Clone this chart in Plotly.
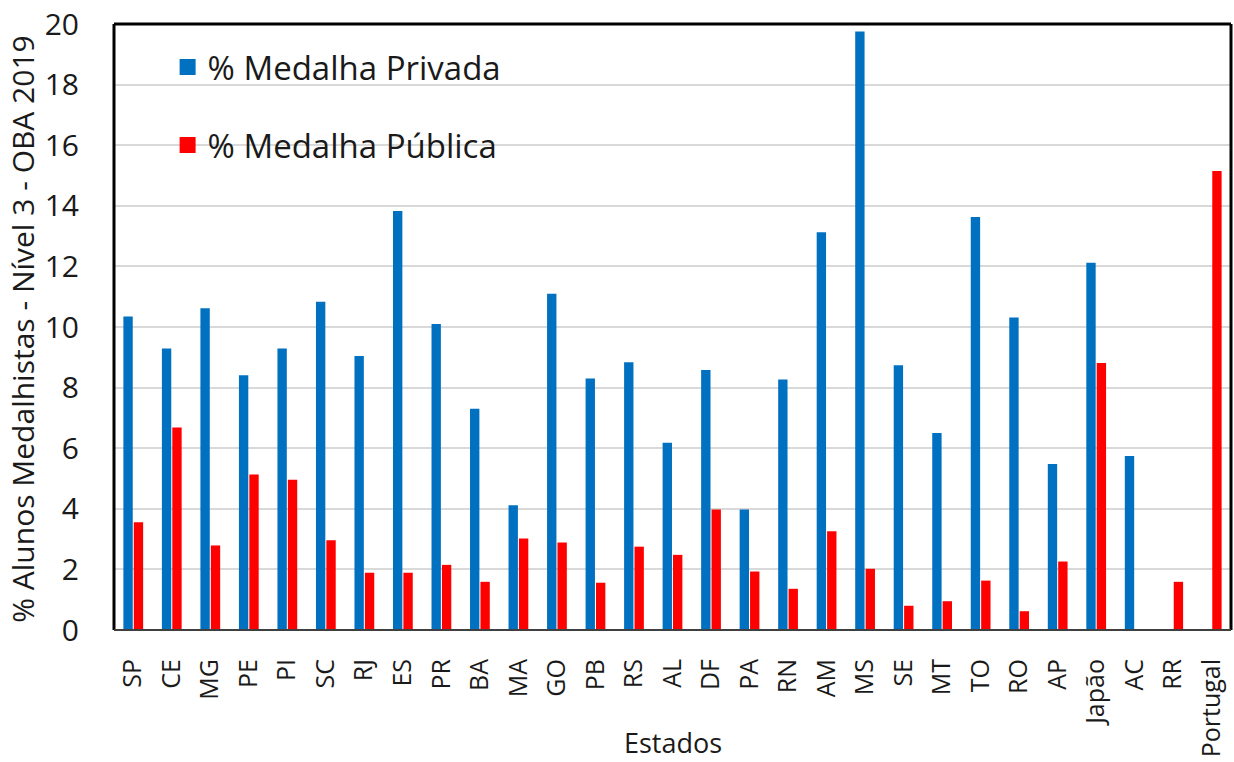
import plotly.graph_objects as go

# Estados / países avaliados
estados = ["SP", "CE", "MG", "PE", "PI", "SC", "RJ", "ES", "PR", "BA", "MA", "GO",
           "PB", "RS", "AL", "DF", "PA", "RN", "AM", "MS", "SE", "MT", "TO", "RO",
           "AP", "Japão", "AC", "RR", "Portugal"]

# % de alunos medalhistas em escolas privadas (None = sem dado)
medalha_privada = [10.35, 9.29, 10.62, 8.41, 9.29, 10.83, 9.04, 13.83, 10.10, 7.30,
                   4.12, 11.10, 8.30, 8.84, 6.18, 8.58, 3.98, 8.27, 13.13, 19.75,
                   8.74, 6.50, 13.63, 10.31, 5.48, 12.12, 5.74, None, None]

# % de alunos medalhistas em escolas públicas
medalha_publica = [3.56, 6.68, 2.79, 5.13, 4.96, 2.96, 1.89, 1.89, 2.15, 1.59,
                   3.02, 2.89, 1.56, 2.75, 2.48, 3.98, 1.93, 1.36, 3.26, 2.02,
                   0.80, 0.95, 1.63, 0.62, 2.26, 8.81, None, 1.59, 15.15]

AZUL = "#0070C0"
VERMELHO = "#FF0000"
FONTE = "'Open Sans', sans-serif"
TEXTO = "#1a1a1a"

fig = go.Figure()

fig.add_trace(go.Bar(x=estados, y=medalha_privada, name="% Medalha Privada",
                     marker=dict(color=AZUL, line=dict(width=0)), showlegend=False))
fig.add_trace(go.Bar(x=estados, y=medalha_publica, name="% Medalha Pública",
                     marker=dict(color=VERMELHO, line=dict(width=0)), showlegend=False))

# Entradas da legenda com marcadores quadrados maiores
fig.add_trace(go.Scatter(x=[None], y=[None], mode="markers", name="% Medalha Privada",
                         marker=dict(symbol="square", size=20, color=AZUL),
                         legendgroup="a"))
fig.add_trace(go.Scatter(x=[None], y=[None], mode="markers", name="% Medalha Pública",
                         marker=dict(symbol="square", size=20, color=VERMELHO),
                         legendgroup="b"))

fig.update_layout(
    width=1234, height=762,
    margin=dict(l=114, r=3, t=24, b=132, autoexpand=False),
    paper_bgcolor="white",
    plot_bgcolor="white",
    barmode="group",
    bargap=0.46,
    bargroupgap=0.1,
    font=dict(family=FONTE, color=TEXTO, size=26),
    legend=dict(
        x=0.048, y=0.975, xanchor="left", yanchor="top",
        bgcolor="rgba(0,0,0,0)",
        font=dict(size=33, family=FONTE, color=TEXTO),
        tracegroupgap=32,
        traceorder="grouped",
        itemsizing="trace",
    ),
    xaxis=dict(
        type="category",
        automargin=False,
        tickangle=-90,
        tickfont=dict(size=25, family=FONTE, color=TEXTO),
        ticks="outside", ticklen=18, tickcolor="rgba(0,0,0,0)",
        showgrid=False,
        showline=False,
    ),
    yaxis=dict(
        range=[0, 20],
        dtick=2,
        automargin=False,
        tickfont=dict(size=30, family=FONTE, color=TEXTO),
        ticks="outside", ticklen=28, tickcolor="rgba(0,0,0,0)",
        showgrid=True, gridcolor="#D9D9D9", gridwidth=1.5,
        zeroline=False,
        showline=False,
    ),
    annotations=[
        dict(text="Estados", xref="paper", yref="paper", x=0.5, y=-0.186,
             xanchor="center", yanchor="middle", showarrow=False,
             font=dict(size=27, family=FONTE, color=TEXTO)),
        dict(text="% Alunos Medalhistas - Nível 3 - OBA 2019", xref="paper", yref="paper",
             x=-0.0815, y=0.497, xanchor="center", yanchor="middle", textangle=-90,
             showarrow=False, font=dict(size=30, family=FONTE, color=TEXTO)),
    ],
    shapes=[
        # área branca atrás da legenda
        dict(type="rect", xref="paper", yref="paper", x0=0.017, x1=0.375, y0=0.73, y1=0.985,
             fillcolor="white", line=dict(width=0), layer="between"),
        # moldura da área do gráfico
        dict(type="line", xref="paper", yref="paper", x0=0, x1=0, y0=0, y1=1,
             line=dict(color="black", width=3)),
        dict(type="line", xref="paper", yref="paper", x0=0, x1=1, y0=1, y1=1,
             line=dict(color="black", width=3)),
        dict(type="line", xref="paper", yref="paper", x0=1, x1=1, y0=0, y1=1,
             line=dict(color="black", width=3)),
        dict(type="line", xref="paper", yref="paper", x0=0, x1=1, y0=0, y1=0,
             line=dict(color="#404040", width=2)),
    ],
)

fig.write_html("out.html")
